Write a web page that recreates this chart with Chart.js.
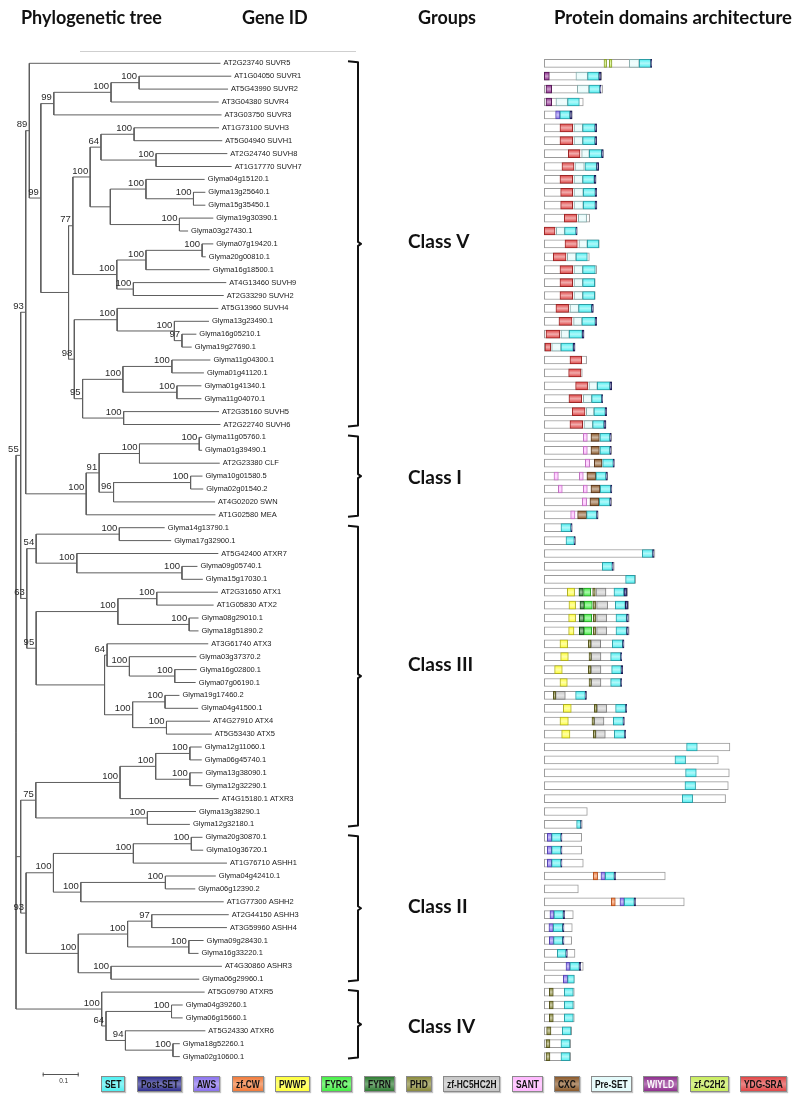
<!DOCTYPE html>
<html>
<head>
<meta charset="utf-8">
<script src="https://cdn.jsdelivr.net/npm/chart.js@4.4.1/dist/chart.umd.min.js"></script>
<style>
  body { margin: 0; background: #fff; }
  #wrap { position: relative; width: 796px; height: 1102px; overflow: hidden; }
  #chart { position: absolute; left: 0; top: 0; }
  .hd { position: absolute; top: 6px; font: 700 18px Lato, sans-serif; color: #111; white-space: nowrap; }
  .rule { position: absolute; left: 80px; top: 51px; width: 276px; border-top: 1px solid #cfcfcf; }
  #legend { position: absolute; left: 101px; width: 686px; top: 1076px; height: 16px; display: flex; justify-content: space-between; }
  .lg { position: relative; height: 14px; border: 1px solid #8a8a8a; color: #111; overflow: hidden;
        box-shadow: 1px 1px 1px #c4c4c4; }
  .lg span { position: absolute; left: 3px; top: 0; white-space: nowrap; transform-origin: 0 0;
        font: 700 10.5px/14px "Liberation Sans", Arial, sans-serif; }
</style>
</head>
<body>
<div id="wrap">
  <canvas id="chart" width="796" height="1102"></canvas>
  <div class="hd" style="left:21px">Phylogenetic tree</div>
  <div class="hd" style="left:242px">Gene ID</div>
  <div class="hd" style="left:418px">Groups</div>
  <div class="hd" style="left:554px;font-size:18.5px">Protein domains architecture</div>
  <div class="rule"></div>
  <div id="legend"></div>
</div>
<script>
// ---- tree (newick, branch lengths in substitutions/site, bootstrap as node names) ----
const cladeV = "(AT2G23740 SUVR5:0.531,((((AT1G04050 SUVR1:0.256,AT5G43990 SUVR2:0.247)100:0.078,AT3G04380 SUVR4:0.299)100:0.159,AT3G03750 SUVR3:0.466)99:0.036," +
  "(((((AT1G73100 SUVH3:0.236,AT5G04940 SUVH1:0.245)100:0.092,(AT2G24740 SUVH8:0.198,AT1G17770 SUVH7:0.210)100:0.153)64:0.030," +
  "((Glyma04g15120.1:0.163,(Glyma13g25640.1:0.033,Glyma15g35450.1:0.033)100:0.132)100:0.099,(Glyma19g30390.1:0.094,Glyma03g27430.1:0.024)100:0.192):0.056)100:0.048," +
  "(((Glyma07g19420.1:0.031,Glyma20g00810.1:0.010)100:0.156,Glyma16g18500.1:0.177)100:0.081,(AT4G13460 SUVH9:0.258,AT2G33290 SUVH2:0.251)100:0.046)100:0.122)77:0.012," +
  "((AT5G13960 SUVH4:0.281,(Glyma13g23490.1:0.096,(Glyma16g05210.1:0.040,Glyma19g27690.1:0.027)97:0.021)100:0.159)100:0.119," +
  "(((Glyma11g04300.1:0.107,Glyma01g41120.1:0.089)100:0.136,(Glyma01g41340.1:0.068,Glyma11g04070.1:0.068)100:0.150)100:0.112,(AT2G35160 SUVH5:0.265,AT2G22740 SUVH6:0.269)100:0.114)95:0.023)98:0.016):0.077)99:0.032)89";
const cladeI = "((((Glyma11g05760.1:0.008,Glyma01g39490.1:0.008)100:0.166,AT2G23380 CLF:0.223)100:0.112,((Glyma10g01580.5:0.033,Glyma02g01540.2:0.035)100:0.214,AT4G02020 SWN:0.282)96:0.040)91:0.036,AT1G02580 MEA:0.359)100";
const cladeIIIa = "(((Glyma14g13790.1:0.126,Glyma17g32900.1:0.144)100:0.231,(AT5G42400 ATXR7:0.393,(Glyma09g05740.1:0.043,Glyma15g17030.1:0.058)100:0.292)100:0.113)54:0.026," +
  "(((AT2G31650 ATX1:0.170,AT1G05830 ATX2:0.158)100:0.108,(Glyma08g29010.1:0.026,Glyma18g51890.2:0.026)100:0.198)100:0.227," +
  "((AT3G61740 ATX3:0.281,(Glyma03g37370.2:0.186,(Glyma16g02800.1:0.061,Glyma07g06190.1:0.058)100:0.126)100:0.062)64:0.007," +
  "((Glyma19g17460.2:0.040,Glyma04g41500.1:0.092)100:0.090,(AT4G27910 ATX4:0.121,AT5G53430 ATX5:0.126)100:0.094)100:0.078):0.190)95:0.026)63";
const cladeIIIbII = "(((((Glyma12g11060.1:0.033,Glyma06g45740.1:0.033)100:0.095,(Glyma13g38090.1:0.035,Glyma12g32290.1:0.035)100:0.095)100:0.099,AT4G15180.1 ATXR3:0.274)100:0.234," +
  "(Glyma13g38290.1:0.135,Glyma12g32180.1:0.118)100:0.310)75:0.042," +
  "((((Glyma20g30870.1:0.031,Glyma10g36720.1:0.033)100:0.161,AT1G76710 ASHH1:0.260)100:0.222,((Glyma04g42410.1:0.140,Glyma06g12390.2:0.083)100:0.235,AT1G77300 ASHH2:0.397)100:0.076)100:0.076," +
  "(((AT2G44150 ASHH3:0.214,AT3G59960 ASHH4:0.209)97:0.067,(Glyma09g28430.1:0.041,Glyma16g33220.1:0.027)100:0.170)100:0.137,(AT4G30860 ASHR3:0.308,Glyma06g29960.1:0.245)100:0.091)100:0.145)93:0.015)";
const cladeIV = "(AT5G09790 ATXR5:0.286,((Glyma04g39260.1:0.031,Glyma06g15660.1:0.031)100:0.182,(AT5G24330 ATXR6:0.222,(Glyma18g52260.1:0.019,Glyma02g10600.1:0.019)100:0.132)94:0.054)64:0.012)100";
const treeNewick = `(((${cladeV}:0.010,${cladeI}:0.168)93:0.014,${cladeIIIa}:0.017)55:0.013,${cladeIIIbII}:0.013,${cladeIV}:0.238);`;

// ---- groups (leaf rows, 1-based) ----
const groupNames = ['Class V', 'Class I', 'Class III', 'Class II', 'Class IV'];
const groupFirst = [1, 30, 37, 61, 73];
const groupLast = [29, 36, 60, 72, 78];

// ---- protein lengths (aa), in leaf order ----
const proteinLength = [1385, 740, 752, 503, 361, 675, 675, 761, 701, 667, 675, 680, 585, 426, 710, 581, 675, 658, 658, 632,
  675, 512, 396, 546, 490, 869, 752, 804, 795, 869, 869, 903, 817, 873, 869, 697, 361, 404, 1428, 903,
  1178, 1075, 1088, 1096, 1096, 1028, 989, 1011, 998, 546, 1062, 1032, 1049, 2395, 2245, 2387, 2374, 2339, 555, 490,
  482, 482, 503, 1561, 439, 1806, 374, 361, 353, 396, 503, 387, 387, 387, 387, 353, 340, 340];

// ---- domains: [row, start, end] in aa ----
const domSET = [[1,1225,1372],[2,559,705],[3,576,718],[4,301,452],[5,202,331],[6,495,654],[7,495,654],[8,581,740],[9,525,675],[10,495,645],
  [11,503,658],[12,503,658],[14,262,409],[15,555,701],[16,409,555],[17,495,658],[18,495,650],[19,495,650],[20,443,611],[21,486,658],
  [22,322,490],[23,215,374],[26,684,847],[27,611,740],[28,641,787],[29,624,770],[30,718,847],[31,718,847],[32,753,890],[33,667,796],
  [34,722,856],[35,710,847],[36,546,675],[37,215,344],[38,280,387],[39,1264,1397],[40,748,877],[41,1049,1170],[42,899,1028],[43,916,1045],
  [44,925,1062],[45,925,1062],[46,877,1011],[47,856,985],[48,869,993],[49,856,985],[50,404,529],[51,920,1049],[52,890,1019],[53,903,1036],
  [54,1836,1974],[55,1686,1823],[56,1823,1961],[57,1815,1952],[58,1780,1914],[60,417,469],[61,95,215],[62,95,215],[63,95,215],[64,787,903],
  [66,1032,1161],[67,125,245],[68,116,237],[69,120,237],[70,168,280],[71,331,452],[72,301,387],[73,258,374],[74,258,374],[75,258,374],
  [76,232,344],[77,215,331],[78,215,331]];
const domPostSET = [[1,1372,1385],[2,705,731],[3,718,730],[5,331,357],[6,654,675],[7,654,675],[8,740,761],[9,675,701],[10,645,667],[11,658,675],
  [12,658,675],[14,409,422],[20,611,632],[21,658,675],[22,490,512],[23,374,396],[26,847,869],[27,740,752],[28,787,804],[29,770,795],
  [30,847,860],[31,847,860],[32,890,903],[33,796,813],[34,856,869],[35,847,860],[36,675,688],[37,344,357],[38,387,396],[39,1397,1413],
  [40,877,890],[42,1028,1062],[43,1045,1075],[44,1062,1084],[45,1062,1084],[46,1011,1028],[47,985,998],[48,993,1011],[49,985,998],[50,529,542],
  [51,1049,1062],[52,1019,1032],[53,1036,1049],[60,469,477],[61,215,228],[62,215,228],[63,215,228],[64,903,920],[66,1161,1178],[67,245,262],
  [68,237,254],[69,237,254],[70,280,297],[71,452,469]];
const domAWS = [[5,146,202],[61,39,95],[62,39,95],[63,39,95],[64,731,787],[66,976,1032],[67,73,125],[68,60,116],[69,65,120],[71,280,331],[72,245,301]];
const domZfCW = [[64,632,688],[66,864,916]];
const domPWWP = [[42,297,391],[43,318,404],[44,314,404],[45,314,383],[46,202,301],[47,211,310],[48,133,232],[49,202,297],[51,245,348],[52,202,310],[53,224,331]];
const domFYRC = [[42,507,598],[43,516,619],[44,512,611],[45,512,611]];
const domFYRN = [[42,447,503],[43,460,516],[44,452,512],[45,452,512]];
const domPHD = [[42,624,658],[43,628,662],[44,632,662],[45,632,662],[46,568,602],[47,577,606],[48,568,602],[49,577,606],[50,116,146],
  [51,645,679],[52,615,645],[53,632,662],[73,65,116],[74,65,116],[75,65,116],[76,30,86],[77,22,73],[78,22,73]];
const domZfHC = [[42,667,796],[43,675,817],[44,675,804],[45,675,804],[46,602,727],[47,606,731],[48,602,731],[49,606,731],[50,146,271],
  [51,679,804],[52,645,770],[53,662,787]];
const domSANT = [[30,503,555],[31,503,555],[32,529,585],[33,125,181],[33,452,503],[34,181,232],[34,503,555],[35,490,546],[36,340,396]];
const domCXC = [[30,602,710],[31,602,710],[32,645,744],[33,550,662],[34,602,718],[35,589,705],[36,430,546]];
const domPreSET = [[1,1096,1225],[2,408,559],[3,426,576],[4,150,301],[6,383,495],[7,383,495],[8,482,581],[9,396,516],[10,383,495],[11,383,503],
  [12,383,503],[13,439,546],[14,155,262],[15,447,555],[16,297,409],[17,383,495],[18,383,495],[19,383,495],[20,331,443],[21,378,486],
  [22,215,322],[23,95,215],[26,576,684],[27,503,611],[28,542,641],[29,512,624]];
const domWIYLD = [[2,0,65],[3,22,95],[4,22,95]];
const domZfC2H2 = [[1,770,804],[1,839,873]];
const domYDG = [[6,202,366],[7,202,366],[8,310,460],[9,228,383],[10,202,366],[11,211,366],[12,211,366],[13,258,417],[14,0,138],[15,267,426],
  [16,116,280],[17,202,366],[18,202,366],[19,202,366],[20,150,314],[21,189,357],[22,22,198],[23,9,82],[24,331,482],[25,314,473],
  [26,404,559],[27,318,482],[28,361,525],[29,331,495]];

const domainNames = ['SET', 'Post-SET', 'AWS', 'zf-CW', 'PWWP', 'FYRC', 'FYRN', 'PHD', 'zf-HC5HC2H', 'SANT', 'CXC', 'Pre-SET', 'WIYLD', 'zf-C2H2', 'YDG-SRA'];
const domainData = [domSET, domPostSET, domAWS, domZfCW, domPWWP, domFYRC, domFYRN, domPHD, domZfHC, domSANT, domCXC, domPreSET, domWIYLD, domZfC2H2, domYDG];
const domainColors = ['#4ff0f2', '#30308e', '#8a72ee', '#f07a3a', '#ffff3a', '#44ee44', '#2f7d33', '#8a8a3c', '#c6c6c6', '#ffb6ff', '#8b5a2b', '#e2fafa', '#8e2e8e', '#c8ec5c', '#e04646'];
const domainBorders = ['#2a9da5', '#15154f', '#5544b0', '#b4501e', '#b0b020', '#22a022', '#174a1a', '#55551e', '#7c7c7c', '#c070c0', '#55341a', '#88aaaa', '#561856', '#88a030', '#9c2424'];

// ---- helpers ----
function parseNewick(s) {
  let i = 0;
  function node() {
    const n = { children: [], name: '', len: 0 };
    if (s[i] === '(') {
      i++;
      n.children.push(node());
      while (s[i] === ',') { i++; n.children.push(node()); }
      i++;
    }
    let name = '';
    while (i < s.length && !':,);'.includes(s[i])) name += s[i++];
    n.name = name.trim();
    if (s[i] === ':') {
      i++;
      let num = '';
      while (i < s.length && !',);'.includes(s[i])) num += s[i++];
      n.len = parseFloat(num);
    }
    return n;
  }
  return node();
}

function mix(hex, f) {
  const v = parseInt(hex.slice(1), 16);
  const r = v >> 16, g = (v >> 8) & 255, b = v & 255;
  const m = c => Math.round(c + (255 - c) * f);
  return `rgb(${m(r)},${m(g)},${m(b)})`;
}

const root = parseNewick(treeNewick);
const leaves = [], inner = [];
(function layout(n, depth) {
  n.depth = depth;
  if (!n.children.length) { leaves.push(n); n.row = leaves.length; return; }
  n.children.forEach(c => layout(c, depth + c.len));
  n.row = (n.children[0].row + n.children[n.children.length - 1].row) / 2;
  inner.push(n);
})(root, 0);

const treePts = [];
(function walk(n) {
  n.children.forEach(c => {
    treePts.push({ x: n.depth, y: c.row }, { x: c.depth, y: c.row }, { x: null, y: null });
    walk(c);
  });
  if (n.children.length) {
    treePts.push({ x: n.depth, y: n.children[0].row }, { x: n.depth, y: n.children[n.children.length - 1].row }, { x: null, y: null });
  }
})(root);

// ---- legend ----
const legend = document.getElementById('legend');
const mctx = document.createElement('canvas').getContext('2d');
mctx.font = '700 10.5px "Liberation Sans", Arial, sans-serif';
const narrow = 0.8;
domainNames.forEach((name, k) => {
  const d = document.createElement('div');
  d.className = 'lg';
  const s = document.createElement('span');
  s.textContent = name;
  s.style.transform = `scaleX(${narrow})`;
  d.appendChild(s);
  d.style.width = (mctx.measureText(name).width * narrow + 6).toFixed(1) + 'px';
  const c = domainColors[k];
  d.style.background = `linear-gradient(to bottom, ${c} 0%, ${mix(c, 0.35)} 50%, ${c} 100%)`;
  if (name === 'WIYLD') d.style.color = '#fff';
  legend.appendChild(d);
});

// ---- chart ----
const pxPerUnit = 360;       // tree: px per substitution unit
const pxPerAa = 0.0775;      // domains: px per amino acid
const rowPx = 12.9, firstRowPx = 63.3;
const W = 796, H = 1102;
const labelShift = [-2, 2, -11, -1, 3];   // small vertical nudges of the class captions

function gradFill(k) {
  const c = domainColors[k], light = mix(c, 0.55);
  return ctx => {
    if (ctx.type !== 'data' || !ctx.raw) return c;
    const yPx = ctx.chart.scales.y.getPixelForValue(ctx.raw.y);
    if (!isFinite(yPx)) return c;
    const g = ctx.chart.ctx.createLinearGradient(0, yPx - 4, 0, yPx + 4);
    g.addColorStop(0, c); g.addColorStop(0.5, light); g.addColorStop(1, c);
    return g;
  };
}

const datasets = [{
  type: 'line', indexAxis: 'x', xAxisID: 'xt', yAxisID: 'y',
  data: treePts, borderColor: '#5e5e5e', borderWidth: 1, pointRadius: 0, tension: 0, spanGaps: false, fill: false, order: 0
}, {
  type: 'bar', indexAxis: 'y', xAxisID: 'xd', yAxisID: 'y',
  data: proteinLength.map((L, i) => ({ x: [0, L], y: i + 1 })),
  backgroundColor: '#fff', borderColor: '#9a9a9a', borderWidth: 1, borderSkipped: false,
  barThickness: 8, grouped: false, order: 20
}];
domainData.forEach((arr, k) => {
  datasets.push({
    type: 'bar', indexAxis: 'y', xAxisID: 'xd', yAxisID: 'y',
    data: arr.map(d => ({ x: [d[1], d[2]], y: d[0] })),
    backgroundColor: gradFill(k), borderColor: domainBorders[k], borderWidth: 1, borderSkipped: false,
    barThickness: 8, grouped: false, order: k === 1 ? 1 : 10
  });
});

const treeText = {
  id: 'treeText',
  afterDatasetsDraw(chart) {
    const { ctx } = chart;
    const xt = chart.scales.xt, y = chart.scales.y;
    ctx.save();
    ctx.textBaseline = 'middle';
    ctx.fillStyle = '#1a1a1a';
    ctx.font = '7.5px "Liberation Sans", Arial, sans-serif';
    ctx.textAlign = 'left';
    leaves.forEach(n => ctx.fillText(n.name, xt.getPixelForValue(n.depth) + 3, y.getPixelForValue(n.row)));

    ctx.font = '9.5px "Liberation Sans", Arial, sans-serif';
    ctx.textAlign = 'right';
    ctx.fillStyle = '#2a2a2a';
    inner.forEach(n => {
      if (n.name) ctx.fillText(n.name, xt.getPixelForValue(n.depth) - 2, y.getPixelForValue(n.row) - 6);
    });

    // group brackets
    ctx.strokeStyle = '#111';
    ctx.lineWidth = 2;
    ctx.lineJoin = 'round';
    groupNames.forEach((g, i) => {
      const top = y.getPixelForValue(groupFirst[i]) - 2;
      const bot = y.getPixelForValue(groupLast[i]) + 2;
      const mid = (top + bot) / 2;
      ctx.beginPath();
      ctx.moveTo(348, top);
      ctx.lineTo(358, top + 1);
      ctx.lineTo(358, mid - 2);
      ctx.lineTo(361, mid);
      ctx.lineTo(358, mid + 2);
      ctx.lineTo(358, bot - 1);
      ctx.lineTo(348, bot);
      ctx.stroke();
      ctx.fillStyle = '#111';
      ctx.font = '700 19px Lato, sans-serif';
      ctx.textAlign = 'left';
      ctx.fillText(g, 408, mid + labelShift[i]);
    });

    // scale bar 0.1
    const x0 = 42.7, len = xt.getPixelForValue(0.1) - xt.getPixelForValue(0), yb = 1074.5;
    ctx.lineWidth = 1;
    ctx.strokeStyle = '#555';
    ctx.beginPath();
    ctx.moveTo(x0, yb); ctx.lineTo(x0 + len, yb);
    ctx.moveTo(x0 + 0.5, yb - 2); ctx.lineTo(x0 + 0.5, yb + 2);
    ctx.moveTo(x0 + len - 0.5, yb - 2); ctx.lineTo(x0 + len - 0.5, yb + 2);
    ctx.stroke();
    ctx.fillStyle = '#333';
    ctx.font = '6.5px "Liberation Sans", Arial, sans-serif';
    ctx.textAlign = 'center';
    ctx.fillText('0.1', x0 + len / 2 + 3, yb + 7);
    ctx.restore();
  }
};

const yMin = 1 - firstRowPx / rowPx;
new Chart(document.getElementById('chart'), {
  type: 'bar',
  data: { datasets },
  options: {
    responsive: false,
    animation: false,
    devicePixelRatio: 1,
    events: [],
    layout: { padding: 0 },
    plugins: { legend: { display: false }, tooltip: { enabled: false } },
    scales: {
      xt: { type: 'linear', axis: 'x', position: 'bottom', display: false, offset: false, grace: 0,
            min: -16 / pxPerUnit, max: (W - 16) / pxPerUnit },
      xd: { type: 'linear', axis: 'x', position: 'bottom', display: false, offset: false, grace: 0,
            min: -544.3 / pxPerAa, max: (W - 544.3) / pxPerAa },
      y: { type: 'linear', axis: 'y', display: false, offset: false, grace: 0, reverse: true,
           min: yMin, max: yMin + H / rowPx }
    }
  },
  plugins: [treeText]
});
</script>
</body>
</html>
